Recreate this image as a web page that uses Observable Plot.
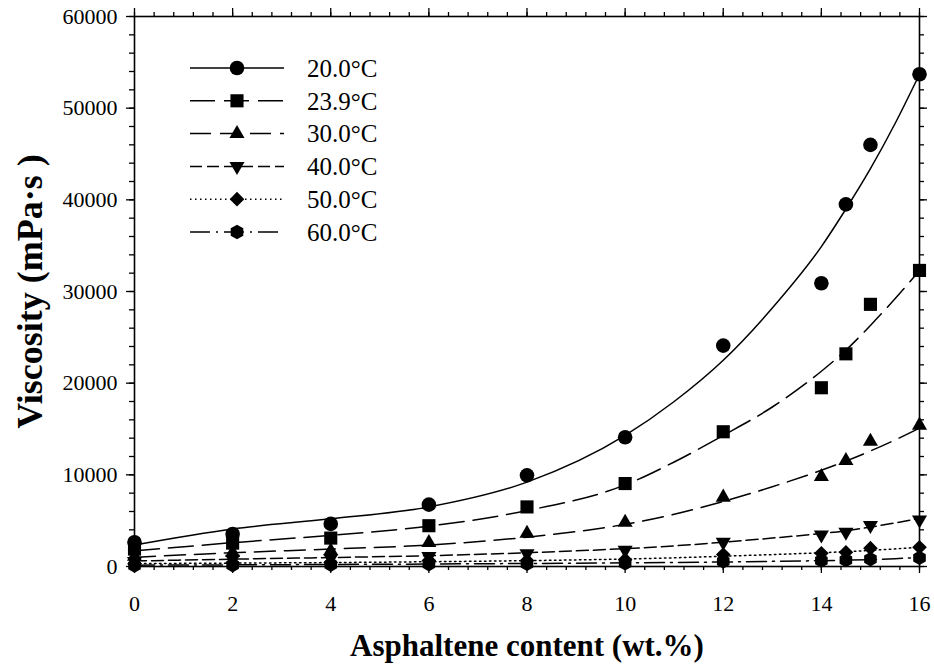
<!DOCTYPE html>
<html>
<head>
<meta charset="utf-8">
<script src="https://cdn.jsdelivr.net/npm/d3@7"></script>
<script src="https://cdn.jsdelivr.net/npm/@observablehq/plot@0.6"></script>
<style>
  body { margin: 0; background: #fff; }
  #chart { position: relative; width: 934px; height: 664px; }
  #chart svg text { font-family: "Liberation Serif", "Times New Roman", serif; }
  #legend { position: absolute; left: 0; top: 0; pointer-events: none; }
</style>
</head>
<body>
<div id="chart"></div>
<script>
// ---------- data ----------
const asphaltene = [0, 2, 4, 6, 8, 10, 12, 14, 14.5, 15, 16];
const visc20 = [2650, 3550, 4650, 6750, 9950, 14100, 24100, 30900, 39500, 46000, 53700];
const visc239 = [1900, 2550, 3100, 4450, 6500, 9050, 14700, 19500, 23200, 28600, 32300];
const visc30 = [1100, 1500, 1700, 2600, 3600, 4800, 7550, 9800, 11550, 13650, 15400];
const visc40 = [550, 800, 900, 1100, 1400, 1800, 2650, 3450, 3750, 4500, 5100];
const visc50 = [300, 400, 450, 650, 650, 750, 1300, 1450, 1550, 2000, 2100];
const visc60 = [100, 150, 200, 250, 300, 350, 550, 650, 700, 800, 950];

// fitted curves
const fitX = [0, 2, 4, 6, 8, 10, 11, 12, 13, 14, 14.5, 15, 15.5, 16];
const fit20 = [2350, 4100, 5200, 6500, 9200, 14300, 18000, 22500, 28200, 34900, 39000, 43400, 48300, 53700];
const fit239 = [1700, 2600, 3400, 4400, 6100, 8900, 11400, 14300, 17400, 21300, 23600, 26300, 29200, 32300];
const fit30 = [1000, 1500, 1900, 2350, 3200, 4600, 5700, 7100, 8700, 10500, 11500, 12600, 13800, 15100];
const fit40 = [600, 800, 980, 1180, 1500, 1950, 2250, 2650, 3100, 3600, 3900, 4300, 4750, 5250];
const fit50 = [320, 370, 430, 520, 640, 820, 950, 1120, 1300, 1500, 1620, 1760, 1920, 2100];
const fit60 = [150, 180, 220, 270, 330, 400, 440, 490, 560, 640, 690, 750, 850, 980];

const seriesLabels = ["20.0°C", "23.9°C", "30.0°C", "40.0°C", "50.0°C", "60.0°C"];

const xMajorTicks = [0, 2, 4, 6, 8, 10, 12, 14, 16];
const yMajorTicks = [0, 10000, 20000, 30000, 40000, 50000, 60000];
const xMinorTicks = d3.range(0, 41).map(i => i * 0.4);
const yMinorTicks = d3.range(0, 31).map(i => i * 2000);

// ---------- styles ----------
const FONT = '"Liberation Serif", "Times New Roman", serif';
const downTriangle = {
  draw(ctx, size) {
    const y = Math.sqrt(size / (3 * Math.sqrt(3)));
    ctx.moveTo(0, 2 * y);
    ctx.lineTo(-Math.sqrt(3) * y, -y);
    ctx.lineTo(Math.sqrt(3) * y, -y);
    ctx.closePath();
  }
};
const hexagon = {
  draw(ctx, size) {
    const rx = Math.sqrt(size / Math.PI), ry = rx * 2 / Math.sqrt(3), hy = ry / 2;
    ctx.moveTo(0, ry); ctx.lineTo(rx, hy); ctx.lineTo(rx, -hy);
    ctx.lineTo(0, -ry); ctx.lineTo(-rx, -hy); ctx.lineTo(-rx, hy);
    ctx.closePath();
  }
};
const symbols = [d3.symbolCircle, d3.symbolSquare, d3.symbolTriangle, downTriangle, d3.symbolDiamond2, hexagon];
const radii = [7.3, 7.4, 5.6, 5.6, 6.6, 6.3];
const dashes = [null, "25,9", "21,9", "12,5", "1.5,3.5", "20,6,2,6"];

const pointSets = [visc20, visc239, visc30, visc40, visc50, visc60];
const fitSets = [fit20, fit239, fit30, fit40, fit50, fit60];

const lineMarks = fitSets.map((vals, s) =>
  Plot.line(fitX.map((x, i) => ({x, y: vals[i]})), {
    x: "x", y: "y", curve: "monotone-x", stroke: "black", strokeWidth: 1.5,
    strokeDasharray: dashes[s] || undefined
  })
);
const dotMarks = pointSets.map((vals, s) =>
  Plot.dot(asphaltene.map((x, i) => ({x, y: vals[i]})), {
    x: "x", y: "y", symbol: symbols[s], r: radii[s], fill: "black", stroke: "none"
  })
);

const noLabel = () => "";
const chart = Plot.plot({
  width: 934,
  height: 664,
  marginLeft: 134,
  marginRight: 15,
  marginTop: 16,
  marginBottom: 98,
  x: {domain: [0, 16]},
  y: {domain: [0, 60000]},
  style: {fontFamily: FONT, fontSize: "22px", color: "black", background: "white"},
  marks: [
    Plot.axisX({anchor: "bottom", ticks: xMinorTicks, tickSize: 4, strokeWidth: 1.3, tickFormat: noLabel, label: null}),
    Plot.axisX({anchor: "bottom", ticks: xMajorTicks, tickSize: 7, strokeWidth: 1.3, tickPadding: 22, tickFormat: d => String(d), label: null, fontSize: 22}),
    Plot.axisX({anchor: "top", ticks: xMinorTicks, tickSize: 5, strokeWidth: 1.3, tickFormat: noLabel, label: null}),
    Plot.axisX({anchor: "top", ticks: xMajorTicks, tickSize: 9, strokeWidth: 1.3, tickFormat: noLabel, label: null}),
    Plot.axisY({anchor: "left", ticks: yMinorTicks, tickSize: 5, strokeWidth: 1.3, tickFormat: noLabel, label: null}),
    Plot.axisY({anchor: "left", ticks: yMajorTicks, tickSize: 8, strokeWidth: 1.3, tickPadding: 9, tickFormat: d => String(d), label: null, fontSize: 22}),
    Plot.axisY({anchor: "right", ticks: yMinorTicks, tickSize: 4, strokeWidth: 1.3, tickFormat: noLabel, label: null}),
    Plot.axisY({anchor: "right", ticks: yMajorTicks, tickSize: 7, strokeWidth: 1.3, tickFormat: noLabel, label: null}),
    ...lineMarks,
    ...dotMarks,
    Plot.frame({stroke: "black", strokeWidth: 1.6}),
    Plot.text(["Asphaltene content (wt.%)"], {frameAnchor: "bottom", dy: 80, lineAnchor: "middle", textAnchor: "middle", fontSize: 31, fontWeight: "bold"}),
    Plot.text(["Viscosity (mPa·s )"], {frameAnchor: "left", dx: -104, rotate: -90, lineAnchor: "middle", textAnchor: "middle", fontSize: 36, fontWeight: "bold"})
  ]
});
const container = document.getElementById("chart");
container.appendChild(chart);

// ---------- legend (inside the plot area, upper left) ----------
const legend = d3.select(container).append("svg")
  .attr("id", "legend").attr("width", 934).attr("height", 664);
const rowY0 = 68, rowStep = 32.8, lineX0 = 190, lineX1 = 284, markX = 237, textX = 307;
seriesLabels.forEach((label, s) => {
  const y = rowY0 + s * rowStep;
  const g = legend.append("g");
  g.append("line").attr("x1", lineX0).attr("x2", lineX1).attr("y1", y).attr("y2", y)
    .attr("stroke", "black").attr("stroke-width", 1.5)
    .attr("stroke-dasharray", dashes[s]);
  g.append("path").attr("transform", `translate(${markX},${y})`)
    .attr("d", d3.symbol(symbols[s], Math.PI * radii[s] * radii[s])())
    .attr("fill", "black");
  g.append("text").attr("x", textX).attr("y", y).attr("dy", "0.35em")
    .attr("font-family", FONT).attr("font-size", 25).text(label);
});
</script>
</body>
</html>
